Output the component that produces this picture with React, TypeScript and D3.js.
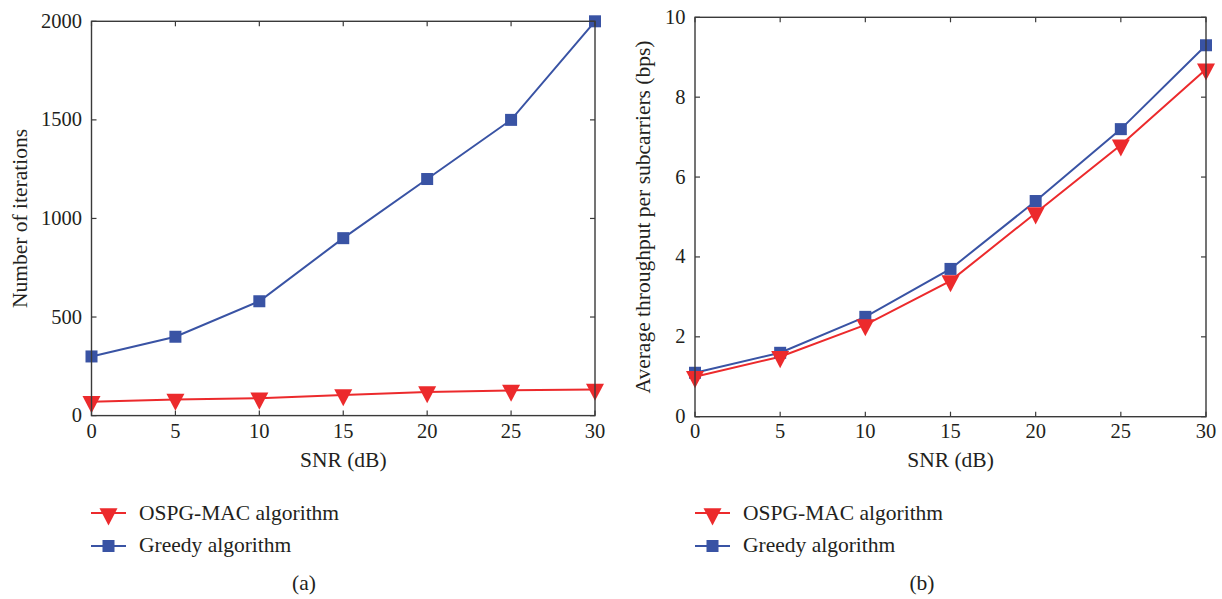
import React from "react";
import * as d3 from "d3";

const snr = [0, 5, 10, 15, 20, 25, 30];
const iterGreedy = [300, 400, 580, 900, 1200, 1500, 2000];
const iterOspg = [70, 82, 88, 105, 120, 128, 133];
const thrGreedy = [1.1, 1.6, 2.5, 3.7, 5.4, 7.2, 9.3];
const thrOspg = [1.0, 1.5, 2.3, 3.4, 5.1, 6.8, 8.7];
const xTicks = [0, 5, 10, 15, 20, 25, 30];
const iterTicks = [0, 500, 1000, 1500, 2000];
const thrTicks = [0, 2, 4, 6, 8, 10];
const seriesNames = ["OSPG-MAC algorithm", "Greedy algorithm"];

const RED = "#ec2a2c";
const BLUE = "#3953a4";
const AXIS = "#3a3a3a";
const TEXT = "#231f20";
const FONT = "Liberation Serif, DejaVu Serif, Times New Roman, serif";

type PanelProps = {
  x0: number; x1: number; y0: number; y1: number;
  yMax: number; yTicks: number[];
  red: number[]; blue: number[];
  yLabel: string; yLabelX: number;
  legendX: number; letter: string; letterX: number;
};

function Tri({ cx, cy, s }: { cx: number; cy: number; s: number }) {
  const h = s * 0.95;
  const top = cy - h / 3;
  const bot = cy + (2 * h) / 3;
  return <path d={`M${cx - s / 2},${top}L${cx + s / 2},${top}L${cx},${bot}Z`} fill={RED} />;
}

function Sq({ cx, cy, s }: { cx: number; cy: number; s: number }) {
  return <rect x={cx - s / 2} y={cy - s / 2} width={s} height={s} fill={BLUE} />;
}

function Panel(p: PanelProps) {
  const x = d3.scaleLinear().domain([0, 30]).range([p.x0, p.x1]);
  const y = d3.scaleLinear().domain([0, p.yMax]).range([p.y1, p.y0]);
  const line = d3.line<number>().x((_, i) => x(snr[i])).y((d) => y(d));
  const tl = 5;
  const cx = (p.x0 + p.x1) / 2;
  const cy = (p.y0 + p.y1) / 2;
  const fsT = 20.5;
  const fs = 21.5;
  return (
    <g fill={TEXT}>
      <path d={line(p.blue) || ""} fill="none" stroke={BLUE} strokeWidth={2} />
      <path d={line(p.red) || ""} fill="none" stroke={RED} strokeWidth={2} />
      {p.blue.map((v, i) => <Sq key={"b" + i} cx={x(snr[i])} cy={y(v)} s={12} />)}
      {p.red.map((v, i) => <Tri key={"r" + i} cx={x(snr[i])} cy={y(v)} s={18} />)}
      <rect x={p.x0} y={p.y0} width={p.x1 - p.x0} height={p.y1 - p.y0} fill="none" stroke={AXIS} strokeWidth={1.4} />
      {xTicks.map((t) => (
        <g key={"x" + t}>
          <line x1={x(t)} x2={x(t)} y1={p.y1} y2={p.y1 - tl} stroke={AXIS} strokeWidth={1.2} />
          <line x1={x(t)} x2={x(t)} y1={p.y0} y2={p.y0 + tl} stroke={AXIS} strokeWidth={1.2} />
          <text x={x(t)} y={438} textAnchor="middle" fontSize={fsT}>{t}</text>
        </g>
      ))}
      {p.yTicks.map((t) => (
        <g key={"y" + t}>
          <line x1={p.x0} x2={p.x0 + tl} y1={y(t)} y2={y(t)} stroke={AXIS} strokeWidth={1.2} />
          <line x1={p.x1} x2={p.x1 - tl} y1={y(t)} y2={y(t)} stroke={AXIS} strokeWidth={1.2} />
          <text x={p.x0 - 9.5} y={y(t) + 6.5} textAnchor="end" fontSize={fsT}>{t}</text>
        </g>
      ))}
      <text x={cx} y={467} textAnchor="middle" fontSize={fs}>SNR (dB)</text>
      <text transform={`translate(${p.yLabelX},${cy}) rotate(-90)`} textAnchor="middle" fontSize={fs}>{p.yLabel}</text>
      <g>
        <line x1={p.legendX} x2={p.legendX + 35} y1={513} y2={513} stroke={RED} strokeWidth={2} />
        <Tri cx={p.legendX + 17.5} cy={514} s={18} />
        <text x={p.legendX + 48} y={520} fontSize={fs}>{seriesNames[0]}</text>
        <line x1={p.legendX} x2={p.legendX + 35} y1={546} y2={546} stroke={BLUE} strokeWidth={2} />
        <Sq cx={p.legendX + 17.5} cy={546} s={12} />
        <text x={p.legendX + 48} y={552} fontSize={fs}>{seriesNames[1]}</text>
      </g>
      <text x={p.letterX} y={590} textAnchor="middle" fontSize={fs}>{p.letter}</text>
    </g>
  );
}

export default function App() {
  return (
    <div style={{ position: "absolute", left: 0, top: 0 }}>
      <svg width={1222} height={599} style={{ display: "block", background: "#fff", fontFamily: FONT }}>
        <Panel x0={91.5} x1={595} y0={21.3} y1={415.6} yMax={2000} yTicks={iterTicks}
          red={iterOspg} blue={iterGreedy} yLabel="Number of iterations" yLabelX={27}
          legendX={91} letter="(a)" letterX={304} />
        <Panel x0={695} x1={1206} y0={17.3} y1={416.7} yMax={10} yTicks={thrTicks}
          red={thrOspg} blue={thrGreedy} yLabel="Average throughput per subcarriers (bps)" yLabelX={650}
          legendX={695} letter="(b)" letterX={922} />
      </svg>
    </div>
  );
}
